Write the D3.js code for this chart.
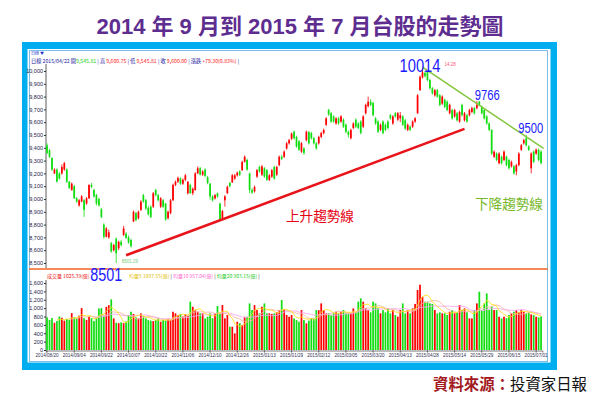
<!DOCTYPE html>
<html><head><meta charset="utf-8">
<script src="https://cdn.jsdelivr.net/npm/d3@7"></script>
<style>html,body{margin:0;padding:0;background:#fff;}svg{display:block}</style>
</head><body><svg id="c" width="600" height="405"></svg>
<script>
const titleText = "2014 年 9 月到 2015 年 7 月台股的走勢圖";
const opens = [9420,9380,9320,9200,9230,9200,9200,9230,9230,9135,
9070,9100,9005,8950,8980,8990,8965,9005,9110,9070,
9030,9000,8920,8800,8705,8700,8655,8600,8690,8615,
8665,8720,8730,8700,8680,8825,8890,8850,8915,9030,
8990,8930,8940,8940,9070,9030,8940,8990,8965,8850,
8890,8990,9110,9135,9160,9120,9150,9045,9110,9045,
9070,9200,9240,9190,9230,9170,9120,9020,9005,9045,
8965,8850,8990,9045,9125,9130,9160,9185,9215,9225,
9290,9305,9200,9070,9060,9175,9250,9190,9240,9225,
9150,9175,9250,9190,9265,9330,9330,9395,9435,9470,
9525,9485,9450,9370,9395,9460,9525,9515,9475,9435,
9435,9485,9515,9580,9695,9670,9645,9590,9630,9605,
9620,9580,9525,9475,9555,9620,9590,9605,9565,9670,
9725,9760,9750,9630,9605,9540,9605,9580,9605,9655,
9590,9670,9620,9630,9645,9615,9540,9565,9565,9605,
9670,9850,9950,9985,9995,9930,9865,9810,9850,9810,
9745,9775,9760,9670,9695,9645,9670,9605,9735,9615,
9655,9655,9680,9710,9710,9760,9720,9695,9645,9590,
9540,9330,9355,9280,9330,9305,9330,9305,9255,9255,
9215,9265,9385,9435,9475,9410,9240,9370,9355,9385,9370];
const closes = [9360,9330,9230,9230,9135,9160,9250,9280,9135,9085,
9120,9005,8980,8990,9020,8915,9005,9110,9095,9020,
8965,8950,8860,8705,8770,8740,8590,8640,8575,8665,
8640,8770,8695,8660,8630,8900,8835,8900,8980,8980,
8925,8880,8860,9045,9030,8990,9005,8940,8840,8900,
8990,9110,9135,9165,9120,9150,9185,9135,9045,9080,
9200,9240,9190,9215,9180,9125,9020,8990,9030,9020,
8840,8905,9020,9095,9100,9185,9185,9205,9190,9290,
9330,9230,9070,9050,9095,9225,9215,9255,9175,9150,
9185,9225,9160,9250,9330,9315,9370,9435,9460,9510,
9475,9410,9385,9435,9360,9525,9435,9475,9435,9395,
9485,9515,9540,9630,9660,9605,9605,9630,9590,9645,
9565,9525,9500,9540,9590,9565,9555,9515,9645,9735,
9760,9735,9655,9590,9525,9580,9515,9540,9555,9630,
9645,9645,9670,9655,9580,9550,9580,9540,9605,9630,
9810,9955,9990,9960,9930,9865,9825,9850,9800,9735,
9800,9720,9695,9735,9630,9695,9615,9680,9655,9670,
9605,9695,9710,9670,9735,9735,9670,9630,9590,9540,
9355,9370,9305,9355,9280,9370,9265,9240,9290,9200,
9265,9355,9420,9460,9420,9385,9355,9290,9385,9305,9280];
const highs = [9435,9390,9325,9240,9240,9210,9270,9290,9240,9140,
9130,9110,9015,9000,9030,9000,9015,9115,9125,9080,
9040,9010,8930,8810,8780,8760,8665,8650,8700,8675,
8680,8790,8740,8715,8690,8910,8900,8910,8990,9040,
9000,8945,8950,9055,9080,9040,9015,9000,8970,8910,
9000,9120,9145,9175,9170,9160,9195,9140,9120,9090,
9210,9255,9250,9225,9240,9180,9125,9030,9040,9050,
8970,8915,9030,9105,9135,9195,9195,9215,9225,9300,
9340,9315,9205,9085,9105,9235,9260,9265,9250,9235,
9195,9235,9260,9260,9340,9345,9380,9445,9470,9520,
9535,9495,9460,9445,9405,9535,9530,9525,9485,9445,
9495,9525,9550,9640,9705,9680,9655,9640,9640,9655,
9630,9590,9535,9550,9600,9630,9600,9615,9655,9745,
9800,9780,9760,9640,9615,9590,9615,9590,9615,9665,
9655,9680,9680,9680,9655,9625,9590,9575,9615,9640,
9820,9965,10014,10000,10005,9940,9875,9860,9860,9820,
9810,9785,9770,9745,9705,9705,9680,9690,9745,9680,
9665,9705,9720,9720,9766,9766,9730,9705,9655,9600,
9545,9380,9365,9365,9340,9380,9340,9315,9300,9265,
9275,9365,9430,9470,9500,9420,9365,9380,9395,9395,9380];
const lows = [9350,9320,9220,9195,9130,9150,9190,9220,9125,9080,
9065,9000,8970,8940,8975,8860,8955,9000,9085,9010,
8950,8940,8850,8690,8700,8690,8580,8590,8501,8600,
8630,8710,8690,8650,8620,8820,8825,8840,8905,8970,
8915,8870,8850,8930,9020,8980,8930,8930,8830,8840,
8880,8985,9100,9125,9110,9110,9140,9035,9040,9030,
9065,9195,9185,9180,9170,9115,8995,8980,8995,9010,
8835,8840,8940,9040,9090,9125,9150,9175,9180,9220,
9285,9220,9045,9040,9050,9165,9205,9180,9165,9140,
9140,9165,9150,9180,9255,9305,9320,9385,9425,9460,
9465,9400,9375,9360,9345,9450,9425,9465,9425,9385,
9425,9475,9505,9570,9650,9595,9595,9580,9580,9595,
9555,9515,9480,9465,9545,9555,9545,9505,9555,9660,
9715,9725,9645,9580,9515,9530,9505,9530,9545,9620,
9580,9635,9610,9600,9570,9540,9530,9530,9555,9595,
9665,9845,9940,9950,9920,9855,9815,9800,9790,9725,
9735,9710,9685,9660,9620,9635,9605,9595,9645,9605,
9595,9645,9670,9660,9700,9725,9660,9620,9580,9530,
9345,9320,9295,9270,9270,9295,9255,9230,9245,9190,
9185,9255,9375,9425,9410,9375,9200,9280,9345,9295,9270];
const volumes = [780,720,760,650,690,800,770,700,740,720,
880,780,760,820,1000,760,720,800,760,690,
780,990,1000,820,1030,1070,1210,755,650,640,
660,640,680,835,914,860,780,755,875,800,
755,715,700,690,715,760,675,720,700,740,
720,914,875,830,860,800,850,820,1153,1033,
950,914,875,875,755,795,875,760,875,1050,
875,1073,755,835,556,556,397,675,640,595,
795,795,1113,954,1073,954,875,1033,1113,875,
875,860,875,900,950,1193,954,835,795,835,
755,715,675,954,715,636,700,755,755,954,
950,1113,954,875,875,835,875,914,880,914,
954,875,875,875,994,900,1153,1233,1153,994,
950,900,1153,1113,1000,875,954,900,994,875,
954,835,795,954,1113,875,954,875,994,1100,
1432,1560,1272,1153,1153,1113,1100,954,875,900,
875,875,835,914,954,880,900,1073,954,994,
900,755,755,954,1113,1392,954,1113,1352,954,
1033,954,954,795,755,795,760,835,875,914,
954,900,954,914,875,900,850,835,795,780,800];
const priceTicks = [10000,9900,9800,9700,9600,9500,9400,9300,9200,9100,9000,8900,8800,8700,8600,8500];
const volTicks = [0,200,400,600,800,1000,1200,1400,1600];
const dateTicks = ["2014/08/20","2014/09/04","2014/09/22","2014/10/07","2014/10/22","2014/11/06","2014/12/10","2014/12/26","2015/01/13","2015/01/29","2015/02/12","2015/03/05","2015/03/20","2015/04/13","2015/04/28","2015/05/14","2015/05/29","2015/06/15","2015/07/01"];
const peaks = [{label:"10014", price:10014}, {label:"9766", price:9766}, {label:"9500", price:9500}, {label:"8501", price:8501}];
const upTrend = [{k:32, p:8560},{k:169, p:9548}];
const downTrend = [{k:152, p:10030},{k:201, p:9395}];

const svg = d3.select("#c");
const CJK = '"Noto Sans CJK TC","Noto Sans CJK SC",sans-serif';
const NARROW = '"Liberation Sans Narrow","Arial Narrow","Liberation Sans",sans-serif';

// title
svg.append("text").attr("x",300).attr("y",34).attr("text-anchor","middle")
  .attr("font-family",'"Liberation Sans",'+CJK).attr("font-size",22).attr("font-weight","bold")
  .attr("fill","#5e2d90").text(titleText);

// frame
svg.append("rect").attr("x",22).attr("y",42).attr("width",535).attr("height",328).attr("fill","#00aeef");
svg.append("rect").attr("x",27.5).attr("y",49).attr("width",523).attr("height",313.5).attr("fill","#fff");
svg.append("rect").attr("x",29.5).attr("y",50.5).attr("width",518).attr("height",311).attr("fill","none").attr("stroke","#7fbce6").attr("stroke-width",1);

const N = closes.length;
const x = d3.scaleBand().domain(d3.range(N)).range([45.8, 542.3]).paddingInner(0.3).paddingOuter(0.15);
const bw = x.bandwidth();
const xAt = k => x(0) + bw/2 + k * x.step();
const y = d3.scaleLinear().domain([8500,10000]).range([263,71]);
const yv = d3.scaleLinear().domain([0,1600]).range([350,283]);
const UP = "#ff0000", DOWN = "#11dd11";
const col = i => closes[i] >= opens[i] ? UP : DOWN;

// info lines
svg.append("text").attr("x",31).attr("y",55).attr("font-family",CJK).attr("font-size",4).attr("fill","#2233cc").text("日線  ▼");
const info = svg.append("text").attr("x",31).attr("y",62.5).attr("font-family",CJK).attr("font-size",5.2);
[["日線  ","#1a1aa0"],["2015/04/22 ","#1a1aa0"],["開","#1a1aa0"],["9,545.81","#22cc22"],[" | ","#1a1aa0"],["高","#1a1aa0"],[" 9,600.75","#ff2222"],[" | ","#1a1aa0"],["低","#1a1aa0"],[" 9,545.81","#ff2222"],[" | ","#1a1aa0"],["收","#1a1aa0"],[" 9,600.00","#ff2222"],[" | ","#1a1aa0"],["漲跌","#1a1aa0"],[" +79.30(0.83%)","#ff2222"],[" |","#1a1aa0"]]
  .forEach(([t,c])=>info.append("tspan").attr("fill",c).text(t));

// axes
const axisFont = sel => sel.selectAll("text").attr("font-family",NARROW).attr("font-size",5.5).attr("fill","#222244");
const gy = svg.append("g").attr("transform","translate(46,0)")
  .call(d3.axisLeft(y).tickValues(priceTicks).tickFormat(d3.format(",")).tickSize(2).tickPadding(1));
gy.select(".domain").remove(); gy.selectAll("line").attr("stroke","#333"); axisFont(gy);
svg.append("line").attr("x1",46).attr("x2",46).attr("y1",64).attr("y2",268).attr("stroke","#333").attr("stroke-width",0.8);
const gv = svg.append("g").attr("transform","translate(46,0)")
  .call(d3.axisLeft(yv).tickValues(volTicks).tickFormat(d3.format(",")).tickSize(2).tickPadding(1));
gv.select(".domain").remove(); gv.selectAll("line").attr("stroke","#333"); axisFont(gv);
svg.append("line").attr("x1",46).attr("x2",46).attr("y1",280).attr("y2",351).attr("stroke","#333").attr("stroke-width",0.8);

const gx = svg.append("g").attr("transform","translate(0,350.5)")
  .call(d3.axisBottom(x).tickValues(dateTicks.map((d,i)=>i*11)).tickFormat((d,i)=>dateTicks[i]).tickSize(2).tickPadding(1));
gx.select(".domain").attr("stroke","#555").attr("stroke-width",0.8);
gx.selectAll("line").attr("stroke","#555");
gx.selectAll("text").attr("font-family",NARROW).attr("font-size",4.6).attr("fill","#333355");

// separator
svg.append("line").attr("x1",29).attr("x2",548).attr("y1",269).attr("y2",269).attr("stroke","#f26522").attr("stroke-width",1.5);

// volume legend (split around the 8501 label, as in the reference)
const vl1 = svg.append("text").attr("x",47).attr("y",277.5).attr("font-family",CJK).attr("font-size",5);
vl1.append("tspan").attr("fill","#ee1111").text("成交量 1025.39(億)");
const vl2 = svg.append("text").attr("x",129).attr("y",277.5).attr("font-family",CJK).attr("font-size",5);
[["均量5 1097.55(億) ","#e0c000"],["| ","#333"],["均量10 957.04(億) ","#ff66cc"],["| ","#333"],["均量20 903.15(億) ","#22cc22"],["|","#333"]]
  .forEach(([t,c])=>vl2.append("tspan").attr("fill",c).text(t));

// candles
const cg = svg.append("g");
cg.selectAll("line.w").data(d3.range(N)).join("line")
  .attr("x1",i=>x(i)+bw/2).attr("x2",i=>x(i)+bw/2)
  .attr("y1",i=>y(highs[i])).attr("y2",i=>y(lows[i]))
  .attr("stroke",col).attr("stroke-width",0.8);
cg.selectAll("rect").data(d3.range(N)).join("rect")
  .attr("x",i=>x(i)).attr("width",bw)
  .attr("y",i=>y(Math.max(opens[i],closes[i])))
  .attr("height",i=>Math.max(1, Math.abs(y(opens[i])-y(closes[i]))))
  .attr("fill",col);

// volume bars
svg.append("g").selectAll("rect").data(d3.range(N)).join("rect")
  .attr("x",i=>x(i)).attr("width",bw)
  .attr("y",i=>yv(volumes[i])).attr("height",i=>yv(0)-yv(volumes[i]))
  .attr("fill",col);

// volume moving averages
const ma = n => d3.range(N).filter(i=>i>=n-1).map(i=>[x(i)+bw/2, yv(d3.mean(volumes.slice(i-n+1,i+1)))]);
[[20,"#f7a8f0"],[10,"#f6b8a8"],[5,"#ffe020"]].forEach(([n,c])=>{
  svg.append("path").attr("d",d3.line()(ma(n))).attr("fill","none").attr("stroke",c).attr("stroke-width",0.9);
});

// trend lines
svg.append("line").attr("x1",xAt(upTrend[0].k)).attr("y1",y(upTrend[0].p))
  .attr("x2",xAt(upTrend[1].k)).attr("y2",y(upTrend[1].p)).attr("stroke","#e8141b").attr("stroke-width",2.6);
svg.append("line").attr("x1",xAt(downTrend[0].k)).attr("y1",y(downTrend[0].p))
  .attr("x2",xAt(downTrend[1].k)).attr("y2",y(downTrend[1].p)).attr("stroke","#82c53a").attr("stroke-width",1.5);

// annotations: numbers squeezed horizontally to the reference's narrow look
const hi = d3.maxIndex(highs), lo = d3.minIndex(lows);
const bigNum = (t,xx,yy,fs,len) => {
  const g = svg.append("g");
  const tx = g.append("text").attr("font-family",NARROW).attr("font-size",fs).attr("fill","#1a1aff").text(t);
  const w = tx.node().getComputedTextLength() || len;
  g.attr("transform",`translate(${xx},${yy}) scale(${len/w},1)`);
};
bigNum(peaks[0].label, xAt(hi)-23, y(peaks[0].price)+3, 19, 41);
svg.append("text").attr("x",xAt(hi)+22).attr("y",y(peaks[0].price)-3).attr("font-family",NARROW).attr("font-size",4.5).attr("fill","#ff5577").text("14.28");
const k9766 = highs.indexOf(peaks[1].price);
bigNum(peaks[1].label, xAt(k9766)-2, y(peaks[1].price)-1, 15.5, 25);
const k9500 = highs.indexOf(peaks[2].price);
bigNum(peaks[2].label, xAt(k9500)-8, y(peaks[2].price)-2, 15.5, 25);
bigNum(peaks[3].label, xAt(lo)-26, y(peaks[3].price)+18, 19, 32);
svg.append("text").attr("x",xAt(lo)+1).attr("y",y(peaks[3].price)).attr("font-family",NARROW).attr("font-size",4.5).attr("fill","#77cc77").text("←8501.29");

svg.append("text").attr("x",286).attr("y",221).attr("font-family",CJK).attr("font-size",13.6).attr("fill","#e60012").text("上升趨勢線");
svg.append("text").attr("x",475).attr("y",209).attr("font-family",CJK).attr("font-size",13.6).attr("fill","#76b82a").text("下降趨勢線");

// source
const src = svg.append("text").attr("x",587).attr("y",390).attr("text-anchor","end").attr("font-family",CJK).attr("font-size",15.4);
src.append("tspan").attr("fill","#a31a1e").attr("font-weight","bold").text("資料來源：");
src.append("tspan").attr("fill","#111").text("投資家日報");
</script>
</body></html>
